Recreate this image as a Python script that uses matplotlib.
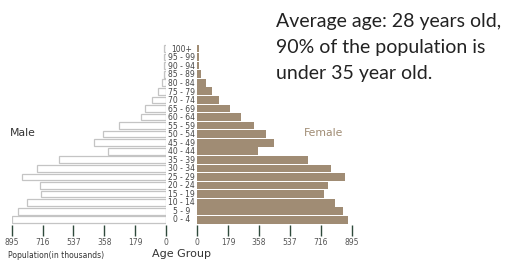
import matplotlib
matplotlib.use("Agg")
import matplotlib.pyplot as plt

age_groups = ["0 - 4", "5 - 9", "10 - 14", "15 - 19", "20 - 24", "25 - 29", "30 - 34",
              "35 - 39", "40 - 44", "45 - 49", "50 - 54", "55 - 59", "60 - 64", "65 - 69",
              "70 - 74", "75 - 79", "80 - 84", "85 - 89", "90 - 94", "95 - 99", "100+"]
male = [893, 858, 810, 726, 730, 835, 748, 620, 334, 416, 363, 270, 144, 119,
        80, 43, 23, 10, 8, 8, 8]
female = [873, 845, 798, 735, 758, 856, 775, 642, 352, 445, 398, 329, 253, 190,
          126, 83, 50, 21, 8, 8, 8]
ticks = [0, 179, 358, 537, 716, 895]

female_color = "#a08c74"
tick_color = "#2f4a3c"
W, H = 507, 262

fig = plt.figure(figsize=(W / 100, H / 100), dpi=100)
bottom = (H - 224.5) / H
height = 180.3 / H
ax_m = fig.add_axes([12 / W, bottom, 153.7 / W, height])
ax_f = fig.add_axes([197.3 / W, bottom, 154.4 / W, height])

y = list(range(len(age_groups)))
ax_m.barh(y, male, height=0.78, color="white", edgecolor="#c4c4c4", linewidth=0.9)
ax_f.barh(y, female, height=0.9, color=female_color, edgecolor="none")

ax_m.set_xlim(895, 0)
ax_f.set_xlim(0, 895)
for ax in (ax_m, ax_f):
    ax.set_ylim(-0.55, 20.5)
    ax.set_xticks(ticks)
    ax.set_xticklabels([str(t) for t in ticks])
    ax.set_yticks([])
    for s in ax.spines.values():
        s.set_visible(False)
    ax.tick_params(axis="x", length=8, width=1, color=tick_color,
                   labelsize=5.5, labelcolor="#555555", pad=2)
    ax.patch.set_alpha(0)

for i, lab in enumerate(age_groups):
    fig.text(181.5 / W, (H - (220 - i * 8.53)) / H, lab, ha="center", va="center",
             fontsize=5.5, color="#444444")

fig.text(10 / W, (H - 133) / H, "Male", ha="left", va="center", fontsize=7.8, color="#333333")
fig.text(304 / W, (H - 133) / H, "Female", ha="left", va="center", fontsize=7.8, color=female_color)
fig.text(181.5 / W, (H - 254) / H, "Age Group", ha="center", va="center", fontsize=8, color="#333333")
fig.text(8 / W, (H - 255) / H, "Population(in thousands)", ha="left", va="center",
         fontsize=5.5, color="#333333")

note = "Average age: 28 years old,\n90% of the population is\nunder 35 year old."
fig.text(276 / W, (H - 13) / H, note, ha="left", va="top", fontsize=14,
         family="Lato", color="#222222", linespacing=1.63)

fig.savefig("out.png", dpi=100)
